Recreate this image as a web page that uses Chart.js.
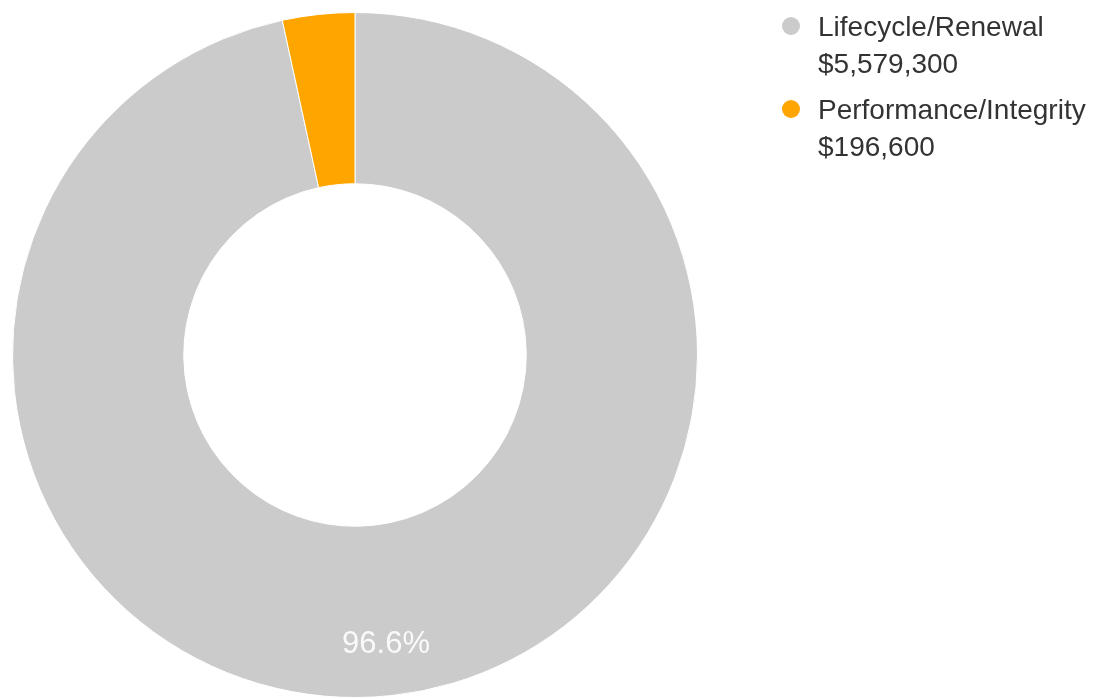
<!DOCTYPE html>
<html>
<head>
<meta charset="utf-8">
<script src="https://cdn.jsdelivr.net/npm/chart.js@4.4.0/dist/chart.umd.min.js"></script>
<style>
  body { margin: 0; background: #fff; }
  #wrap { position: relative; width: 1094px; height: 698px; }
  #legend { position: absolute; left: 781px; top: 8px; font-family: "Liberation Sans", Arial, sans-serif; font-size: 28px; color: #333; }
  .item { position: relative; padding-left: 37px; line-height: 37px; margin-bottom: 9px; white-space: nowrap; }
  .dot { position: absolute; left: 1px; top: 9px; width: 18px; height: 18px; border-radius: 50%; }
</style>
</head>
<body>
<div id="wrap">
  <canvas id="myChart" width="1094" height="698"></canvas>
  <div id="legend"></div>
</div>
<script>
// chart data
const categories = ['Lifecycle/Renewal', 'Performance/Integrity']
const amounts = [5579300, 196600]
const colors = ['#cbcbcb', '#ffa500']

const total = amounts.reduce((a, b) => a + b, 0)

// white % label inside the big slice
const sliceLabels = {
  id: 'sliceLabels',
  afterDatasetsDraw(chart) {
    const ctx = chart.ctx
    chart.getDatasetMeta(0).data.forEach((arc, i) => {
      const pct = amounts[i] / total * 100
      if (pct < 10) return
      const mid = (arc.startAngle + arc.endAngle) / 2
      const r = arc.innerRadius + 0.7 * (arc.outerRadius - arc.innerRadius)
      ctx.save()
      ctx.fillStyle = 'rgba(255,255,255,0.9)'
      ctx.font = '31px "Liberation Sans", Arial, sans-serif'
      ctx.textAlign = 'center'
      ctx.textBaseline = 'middle'
      ctx.fillText(pct.toFixed(1) + '%', arc.x + Math.cos(mid) * r, arc.y + Math.sin(mid) * r)
      ctx.restore()
    })
  }
}

const myChart = new Chart(document.getElementById('myChart'), {
  type: 'doughnut',
  data: {
    labels: categories,
    datasets: [{
      data: amounts,
      backgroundColor: colors,
      borderColor: '#fff',
      borderWidth: 1
    }]
  },
  options: {
    responsive: false,
    animation: false,
    cutout: '50%',
    layout: { padding: { left: 12, top: 12, bottom: 0, right: 396 } },
    plugins: {
      legend: { display: false },
      tooltip: { enabled: false }
    }
  },
  plugins: [sliceLabels]
})

// html legend, two lines per item
const fmt = v => '$' + v.toLocaleString('en-US')
document.getElementById('legend').innerHTML = categories.map((c, i) =>
  '<div class="item"><span class="dot" style="background:' + colors[i] + '"></span>' +
  c + '<br>' + fmt(amounts[i]) + '</div>'
).join('')
</script>
</body>
</html>
